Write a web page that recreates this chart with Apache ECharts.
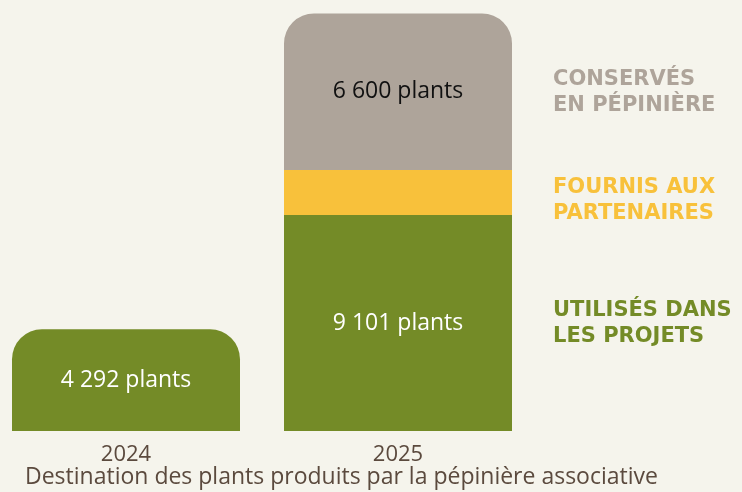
<!DOCTYPE html>
<html>
<head>
<meta charset="utf-8">
<script src="https://cdn.jsdelivr.net/npm/echarts@6/dist/echarts.min.js"></script>
<style>
  html, body { margin: 0; padding: 0; background: #f5f4ec; }
  #chart { width: 742px; height: 492px; }
</style>
</head>
<body>
<div id="chart"></div>
<script>
const categories = ['2024', '2025'];
const seriesNames = ['Utilisés dans les projets', 'Fournis aux partenaires', 'Conservés en pépinière'];
const legendLabels = ['UTILISÉS DANS\nLES PROJETS', 'FOURNIS AUX\nPARTENAIRES', 'CONSERVÉS\nEN PÉPINIÈRE'];
const utilises = [4292, 9101];
const fournis = [null, 1900];
const conserves = [null, 6600];
const chartTitle = 'Destination des plants produits par la pépinière associative';

const GREEN = '#748b27', YELLOW = '#f8c13b', GRAY = '#aea49a', BROWN = '#5b4a3e';
const FONT = '"Open Sans", Lato, sans-serif';
const BOLD_FONT = '"DejaVu Sans", sans-serif';

function fmt(v) {
  return String(v).replace(/\B(?=(\d{3})+(?!\d))/g, ' ') + ' plants';
}
function topRound(arr, topIdx) {
  return arr.map((v, i) => v == null ? v : (topIdx.includes(i) ? { value: v, itemStyle: { borderRadius: [30, 30, 0, 0] } } : v));
}

const chart = echarts.init(document.getElementById('chart'));
function legendFor(idx, color, top) {
  return {
    data: [{ name: seriesNames[idx], icon: 'none' }],
    left: 543, top: top, orient: 'vertical',
    itemWidth: 0, itemHeight: 0,
    selectedMode: false,
    formatter: () => legendLabels[idx],
    textStyle: { color: color, fontFamily: BOLD_FONT, fontWeight: 'bold', fontSize: 21, lineHeight: 26 }
  };
}
chart.setOption({
  backgroundColor: '#f5f4ec',
  animation: false,
  title: {
    text: chartTitle, left: 20, top: 461,
    textStyle: { color: BROWN, fontFamily: FONT, fontWeight: 'normal', fontSize: 23 }
  },
  legend: [
    legendFor(2, GRAY, 62),
    legendFor(1, YELLOW, 170),
    legendFor(0, GREEN, 293)
  ],
  grid: { left: 126, width: 272, top: 4, bottom: 61 },
  xAxis: {
    type: 'category', data: categories, boundaryGap: false,
    axisLine: { show: false }, axisTick: { show: false },
    axisLabel: { color: BROWN, fontFamily: FONT, fontSize: 22, margin: 13 }
  },
  yAxis: { type: 'value', min: 0, max: 18000, show: false, splitLine: { show: false } },
  series: [
    {
      name: seriesNames[0], type: 'bar', stack: 'a', barWidth: 228, clip: false,
      data: topRound(utilises, [0]),
      itemStyle: { color: GREEN },
      label: { show: true, position: 'inside', color: '#fff', fontFamily: FONT, fontSize: 23, formatter: p => fmt(p.value) }
    },
    {
      name: seriesNames[1], type: 'bar', stack: 'a', barWidth: 228, clip: false,
      data: fournis,
      itemStyle: { color: YELLOW },
      label: { show: false }
    },
    {
      name: seriesNames[2], type: 'bar', stack: 'a', barWidth: 228, clip: false,
      data: topRound(conserves, [1]),
      itemStyle: { color: GRAY },
      label: { show: true, position: 'inside', color: '#111', fontFamily: FONT, fontSize: 23, formatter: p => fmt(p.value) }
    }
  ]
});
</script>
</body>
</html>
